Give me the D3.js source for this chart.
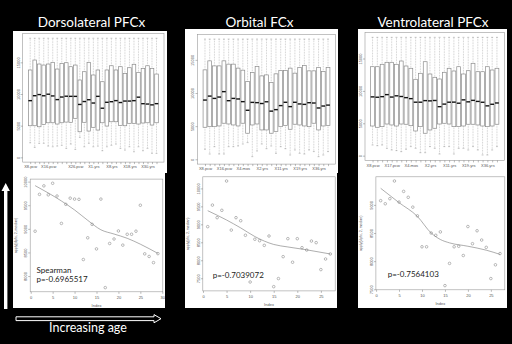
<!DOCTYPE html>
<html>
<head>
<meta charset="utf-8">
<script src="https://cdn.jsdelivr.net/npm/d3@7"></script>
<style>
  body { margin: 0; background: #000; }
  svg { display: block; }
</style>
</head>
<body>
<div id="chart"></div>
<script>
// region titles and correlation notes
const titles = ["Dorsolateral PFCx", "Orbital FCx", "Ventrolateral PFCx"];
const rhoText = ["p=-0.6965517", "p=-0.7039072", "p=-0.7564103"];
const ylabels = ["apply(dlpfc, 2, median)", "apply(ofc, 2, median)", "apply(vlpfc, 2, median)"];

// sample ages (box categories)
const dfcAges = ["X8.pcw","X9.pcw","X12.pcw","X13.pcw","X16.pcw","X17.pcw","X19.pcw","X21.pcw","X24.pcw","X25.pcw",
  "X26.pcw","X37.pcw","X4.mos","X10.mos","X1.yrs","X2.yrs","X3.yrs","X4.yrs","X8.yrs","X11.yrs",
  "X13.yrs","X15.yrs","X18.yrs","X19.yrs","X21.yrs","X23.yrs","X30.yrs","X36.yrs","X37.yrs"];
const ofcAges = ["X8.pcw","X12.pcw","X13.pcw","X15.pcw","X16.pcw","X19.pcw","X21.pcw","X37.pcw","X4.mos","X10.mos",
  "X1.yrs","X1.yrs.1","X2.yrs","X3.yrs","X4.yrs","X8.yrs","X11.yrs","X13.yrs","X15.yrs","X18.yrs",
  "X19.yrs","X21.yrs","X23.yrs","X30.yrs","X36.yrs","X37.yrs","X40.yrs"];
const vfcAges = ["X8.pcw","X12.pcw","X13.pcw","X16.pcw","X17.pcw","X19.pcw","X21.pcw","X37.pcw","X4.mos","X10.mos",
  "X1.yrs","X1.yrs.1","X2.yrs","X3.yrs","X4.yrs","X8.yrs","X11.yrs","X13.yrs","X15.yrs","X18.yrs",
  "X19.yrs","X21.yrs","X23.yrs","X30.yrs","X36.yrs","X37.yrs","X40.yrs"];

// tick labels R managed to print
const dfcShown = ["X8.pcw","X16.pcw","X26.pcw","X1.yrs","X8.yrs","X18.yrs","X30.yrs"];
const ofcShown = ["X8.pcw","X16.pcw","X4.mos","X2.yrs","X11.yrs","X19.yrs","X36.yrs"];
const vfcShown = ["X8.pcw","X17.pcw","X4.mos","X2.yrs","X11.yrs","X19.yrs","X36.yrs"];

// medians (box middles and scatter points)
const dfcMedian = [8950, 9730, 9910, 9720, 9965, 9695, 9115, 9520, 9650, 9630, 9625, 8350, 8810, 9095, 8575,
  9630, 7755, 8690, 8785, 8955, 8655, 8885, 8885, 8950, 9500, 8470, 8415, 8285, 8475];
const ofcMedian = [8935, 9535, 9185, 9390, 10205, 8840, 9185, 9100, 8695, 7395, 8585, 8545, 8415, 8675,
  7265, 7490, 8100, 8600, 7945, 8600, 8350, 8285, 8535, 8490, 7740, 8035, 8175];
const vfcMedian = [9075, 9020, 9110, 9425, 9050, 9240, 9135, 8960, 8805, 8255, 8255, 8500, 8460, 8520,
  7565, 7960, 8255, 8265, 8100, 8615, 8310, 8540, 8375, 8245, 7690, 7935, 8135];

// upper / lower quartiles
const dfcQ3 = [13790, 15360, 14730, 14570, 14730, 15000, 13940, 14840, 14940, 14310, 14570, 12210, 13520, 15000,
  13000, 13790, 11940, 13790, 14460, 13790, 14310, 13260, 14150, 14690, 13420, 14050, 14460, 14050, 13150];
const dfcQ1 = [4990, 4990, 4830, 5210, 5460, 5460, 5260, 5460, 5570, 5530, 6160, 4040, 5530, 4150, 4740,
  4310, 5460, 4940, 5620, 5620, 5050, 4990, 5370, 5370, 5260, 5420, 5460, 5100, 5460];
const ofcQ3 = [13490, 14850, 14090, 14090, 14850, 14350, 14350, 13750, 13440, 11720, 13080, 13990, 12580, 12730,
  11570, 12890, 13380, 13380, 13750, 12990, 13840, 14140, 13340, 13340, 13840, 13230, 13840];
const ofcQ1 = [4830, 4920, 4920, 5030, 5440, 5330, 5180, 5030, 5440, 3930, 5180, 5330, 4430, 4430,
  3930, 4170, 4920, 5080, 4530, 5290, 5180, 5030, 4920, 5440, 4430, 5030, 5080];
const vfcQ3 = [13735, 13735, 14105, 14414, 14414, 14105, 14614, 13843, 13488, 11790, 12716, 14506, 12608, 12099,
  11836, 12870, 13488, 13071, 13735, 12608, 13117, 14259, 12963, 12963, 13735, 13225, 13488];
const vfcQ1 = [4580, 4380, 4480, 4890, 4740, 4580, 4890, 4850, 4630, 3810, 4480, 3460, 3970, 4230,
  4890, 5000, 4890, 4480, 4480, 4580, 4850, 4850, 4740, 4580, 4480, 4580, 4850];

// whisker ends
const dfcLow = [2300, 1580, 2210, 2210, 1780, 1670, 1780, 1900, 1420, 2100, 1260, 3160, 1670, 2210, 1670,
  1780, 1040, 1670, 1900, 2100, 1420, 1150, 1670, 880, 1670, 1040, 1420, 630, 630];
const ofcLow = [1510, 800, 1900, 800, 800, 1900, 1900, 2010, 2310, 2520, 400, 1260, 2310, 1600,
  2010, 900, 1900, 1600, 650, 1410, 900, 800, 1410, 1160, 400, 650, 1160];
const vfcLow = [1650, 1540, 1650, 1140, 880, 780, 620, 990, 1400, 1140, 460, 460, 1400, 1140,
  260, 1400, 1400, 260, 1140, 1140, 880, 1400, 880, 110, 110, 880, 1400];
const whiskerTop = [18800, 18130, 18270];

// lowess curve
const dfcLoessIdx = [1, 4, 7, 10, 13, 16, 19, 22, 25, 29];
const dfcLoess = [9915, 9760, 9590, 9400, 9180, 8980, 8890, 8800, 8675, 8480];
const ofcLoessIdx = [1, 5, 8, 11, 15, 18, 22, 27];
const ofcLoess = [9380, 9120, 8900, 8660, 8440, 8370, 8290, 8175];
const vfcLoessIdx = [1, 5, 9, 12, 14, 16, 20, 24, 27];
const vfcLoess = [9295, 9040, 8795, 8500, 8385, 8325, 8265, 8195, 8120];

// axis ticks
const boxYTicks = [0, 5000, 10000, 15000];
const dfcYTicks = [8000, 8500, 9000, 9500, 10000];
const ofcYTicks = [7500, 8000, 8500, 9000, 9500, 10000];
const vfcYTicks = [7500, 8000, 8500, 9000];
const dfcXTicks = [0, 5, 10, 15, 20, 25, 30];
const ofcXTicks = [0, 5, 10, 15, 20, 25];
const vfcXTicks = [0, 5, 10, 15, 20, 25];

const panels = [
  { title: titles[0], ages: dfcAges, shown: dfcShown, q1: dfcQ1, med: dfcMedian, q3: dfcQ3, lo: dfcLow, hi: whiskerTop[0],
    lx: dfcLoessIdx, ly: dfcLoess, yTicks: dfcYTicks, xTicks: dfcXTicks, note: ["Spearman", rhoText[0]], ylab: ylabels[0] },
  { title: titles[1], ages: ofcAges, shown: ofcShown, q1: ofcQ1, med: ofcMedian, q3: ofcQ3, lo: ofcLow, hi: whiskerTop[1],
    lx: ofcLoessIdx, ly: ofcLoess, yTicks: ofcYTicks, xTicks: ofcXTicks, note: [null, rhoText[1]], ylab: ylabels[1] },
  { title: titles[2], ages: vfcAges, shown: vfcShown, q1: vfcQ1, med: vfcMedian, q3: vfcQ3, lo: vfcLow, hi: whiskerTop[2],
    lx: vfcLoessIdx, ly: vfcLoess, yTicks: vfcYTicks, xTicks: vfcXTicks, note: [null, rhoText[2]], ylab: ylabels[2] }
];

// pixel boxes: [x0, y0, x1, y1]
const layout = [
  { titleX: 91.5, titleY: 27, boxBg: [13, 31, 167, 173], boxFrame: [22.7, 33.5, 164, 162.1],
    scBg: [13, 168, 165, 308], scFrame: [30.2, 179.1, 162.8, 291.8], noteX: 36.5, noteY: [272.5, 282] },
  { titleX: 259.5, titleY: 27, boxBg: [185, 29, 338, 173], boxFrame: [197.5, 34.3, 335.5, 164.1],
    scBg: [185, 168, 337, 308], scFrame: [202.8, 176.8, 335.2, 290.9], noteX: 212.7, noteY: [null, 278] },
  { titleX: 433, titleY: 27, boxBg: [358, 29, 507, 171], boxFrame: [365, 32.6, 504.5, 160.4],
    scBg: [358, 168, 507, 308], scFrame: [375.9, 176.8, 504.8, 289.8], noteX: 387.7, noteY: [null, 277] }
];

const rFont = "'Liberation Sans', Arial, sans-serif";
const svg = d3.select("#chart").append("svg")
  .attr("width", 512)
  .attr("height", 344);

svg.append("rect").attr("width", 512).attr("height", 344).attr("fill", "#000");

function tidyAxis(g) {
  g.select(".domain").remove();
  g.selectAll(".tick line").attr("stroke", "#777").attr("stroke-width", 0.5);
  g.selectAll(".tick text")
    .attr("fill", "#555")
    .style("font-size", "4px")
    .style("font-family", rFont);
}

function rotateYLabels(g) {
  g.selectAll(".tick text")
    .attr("x", 0)
    .attr("y", -3.2)
    .attr("dy", 0)
    .attr("transform", "rotate(-90)")
    .attr("text-anchor", "middle");
}

function drawFrame(g, f) {
  g.append("rect")
    .attr("x", f[0]).attr("y", f[1])
    .attr("width", f[2] - f[0]).attr("height", f[3] - f[1])
    .attr("fill", "none").attr("stroke", "#999").attr("stroke-width", 0.6);
}

function drawBoxplot(p, L) {
  const g = svg.append("g");
  const bg = L.boxBg, f = L.boxFrame;
  const n = p.med.length;
  const pad = 0.04 * n;

  g.append("rect").attr("x", bg[0]).attr("y", bg[1])
    .attr("width", bg[2] - bg[0]).attr("height", bg[3] - bg[1]).attr("fill", "#fff");

  const x = d3.scaleLinear().domain([0.5 - pad, n + 0.5 + pad]).range([f[0], f[2]]);
  const y = d3.scaleLinear().domain([-0.04 * p.hi, 1.04 * p.hi]).range([f[3], f[1]]);

  const rows = p.med.map((m, i) => ({ k: i + 1, med: m, q1: p.q1[i], q3: p.q3[i], lo: p.lo[i], hi: p.hi }));

  const box = g.selectAll(".box").data(rows).enter().append("g").attr("class", "box");

  // dotted whiskers
  box.append("line")
    .attr("x1", d => x(d.k)).attr("x2", d => x(d.k))
    .attr("y1", d => y(d.q3)).attr("y2", d => y(d.hi))
    .attr("stroke", "#999").attr("stroke-width", 0.5).attr("stroke-dasharray", "0.8,0.8");
  box.append("line")
    .attr("x1", d => x(d.k)).attr("x2", d => x(d.k))
    .attr("y1", d => y(d.q1)).attr("y2", d => y(d.lo))
    .attr("stroke", "#999").attr("stroke-width", 0.5).attr("stroke-dasharray", "0.8,0.8");
  // staples
  box.selectAll(".cap").data(d => [{ k: d.k, v: d.hi }, { k: d.k, v: d.lo }]).enter().append("line")
    .attr("x1", d => x(d.k - 0.2)).attr("x2", d => x(d.k + 0.2))
    .attr("y1", d => y(d.v)).attr("y2", d => y(d.v))
    .attr("stroke", "#888").attr("stroke-width", 0.5);
  // boxes
  box.append("rect")
    .attr("x", d => x(d.k - 0.4))
    .attr("y", d => y(d.q3))
    .attr("width", d => x(d.k + 0.4) - x(d.k - 0.4))
    .attr("height", d => y(d.q1) - y(d.q3))
    .attr("fill", "#fff").attr("stroke", "#8c8c8c").attr("stroke-width", 0.7);
  // medians
  box.append("line")
    .attr("x1", d => x(d.k - 0.4)).attr("x2", d => x(d.k + 0.4))
    .attr("y1", d => y(d.med)).attr("y2", d => y(d.med))
    .attr("stroke", "#111").attr("stroke-width", 1.4);

  drawFrame(g, f);

  g.append("g")
    .attr("transform", `translate(0,${f[3]})`)
    .call(d3.axisBottom(x).tickValues(d3.range(1, n + 1)).tickSize(2).tickSizeOuter(0).tickPadding(1.5)
      .tickFormat(k => p.shown.includes(p.ages[k - 1]) ? p.ages[k - 1] : ""))
    .call(tidyAxis);

  g.append("g")
    .attr("transform", `translate(${f[0]},0)`)
    .call(d3.axisLeft(y).tickValues(boxYTicks).tickSize(2).tickSizeOuter(0).tickFormat(d3.format("d")))
    .call(tidyAxis)
    .call(rotateYLabels);
}

function drawScatter(p, L) {
  const g = svg.append("g");
  const bg = L.scBg, f = L.scFrame;
  const n = p.med.length;

  g.append("rect").attr("x", bg[0]).attr("y", bg[1])
    .attr("width", bg[2] - bg[0]).attr("height", bg[3] - bg[1]).attr("fill", "#fff");

  const xs = d3.scaleLinear().domain([1 - 0.04 * (n - 1), n + 0.04 * (n - 1)]).range([f[0], f[2]]);
  const [mn, mx] = d3.extent(p.med);
  const span = mx - mn;
  const ys = d3.scaleLinear().domain([mn - 0.04 * span, mx + 0.04 * span]).range([f[3], f[1]]);

  drawFrame(g, f);

  g.append("g")
    .attr("transform", `translate(0,${f[3]})`)
    .call(d3.axisBottom(xs).tickValues(p.xTicks).tickSize(2).tickSizeOuter(0).tickPadding(2))
    .call(tidyAxis);

  g.append("g")
    .attr("transform", `translate(${f[0]},0)`)
    .call(d3.axisLeft(ys).tickValues(p.yTicks).tickSize(2).tickSizeOuter(0).tickFormat(d3.format("d")))
    .call(tidyAxis)
    .call(rotateYLabels);

  // lowess line
  const line = d3.line()
    .x((d, i) => xs(p.lx[i]))
    .y(d => ys(d))
    .curve(d3.curveMonotoneX);
  g.append("path")
    .attr("d", line(p.ly))
    .attr("fill", "none").attr("stroke", "#777").attr("stroke-width", 0.6);

  g.selectAll(".pt").data(p.med).enter().append("circle")
    .attr("cx", (d, i) => xs(i + 1))
    .attr("cy", d => ys(d))
    .attr("r", 1.3)
    .attr("fill", "none").attr("stroke", "#777").attr("stroke-width", 0.5);

  g.append("text")
    .attr("x", (f[0] + f[2]) / 2).attr("y", f[3] + 15.5)
    .attr("text-anchor", "middle")
    .attr("fill", "#555").style("font-size", "4px").style("font-family", rFont)
    .text("Index");

  g.append("text")
    .attr("transform", `translate(${f[0] - 13.5},${(f[1] + f[3]) / 2}) rotate(-90)`)
    .attr("text-anchor", "middle")
    .attr("fill", "#555").style("font-size", "3.5px").style("font-family", rFont)
    .text(p.ylab);

  p.note.forEach((t, i) => {
    if (!t) return;
    g.append("text")
      .attr("x", L.noteX).attr("y", L.noteY[i])
      .attr("fill", "#222").style("font-size", "8px").style("font-family", "Lato, 'Open Sans', sans-serif")
      .text(t);
  });
}

panels.forEach((p, i) => {
  const L = layout[i];
  drawScatter(p, L);
  drawBoxplot(p, L);
  svg.append("text")
    .attr("x", L.titleX).attr("y", L.titleY)
    .attr("text-anchor", "middle")
    .attr("fill", "#fff")
    .style("font-size", "13.5px")
    .style("font-family", "Lato, 'Open Sans', sans-serif")
    .text(p.title);
});

// vertical arrow
svg.append("path")
  .attr("d", "M4,309 L4,191 L1.5,191 L5.7,183 L9.9,191 L7.4,191 L7.4,309 Z")
  .attr("fill", "#fff");

// horizontal arrow
svg.append("path")
  .attr("d", "M16,316.8 L154,316.8 L154,314.6 L161,318.7 L154,322.8 L154,320.6 L16,320.6 Z")
  .attr("fill", "#000").attr("stroke", "#fff").attr("stroke-width", 1);

svg.append("text")
  .attr("x", 88).attr("y", 331.5)
  .attr("text-anchor", "middle")
  .attr("fill", "#fff")
  .style("font-size", "12.5px")
  .style("font-family", "Lato, 'Open Sans', sans-serif")
  .text("Increasing age");
</script>
</body>
</html>
